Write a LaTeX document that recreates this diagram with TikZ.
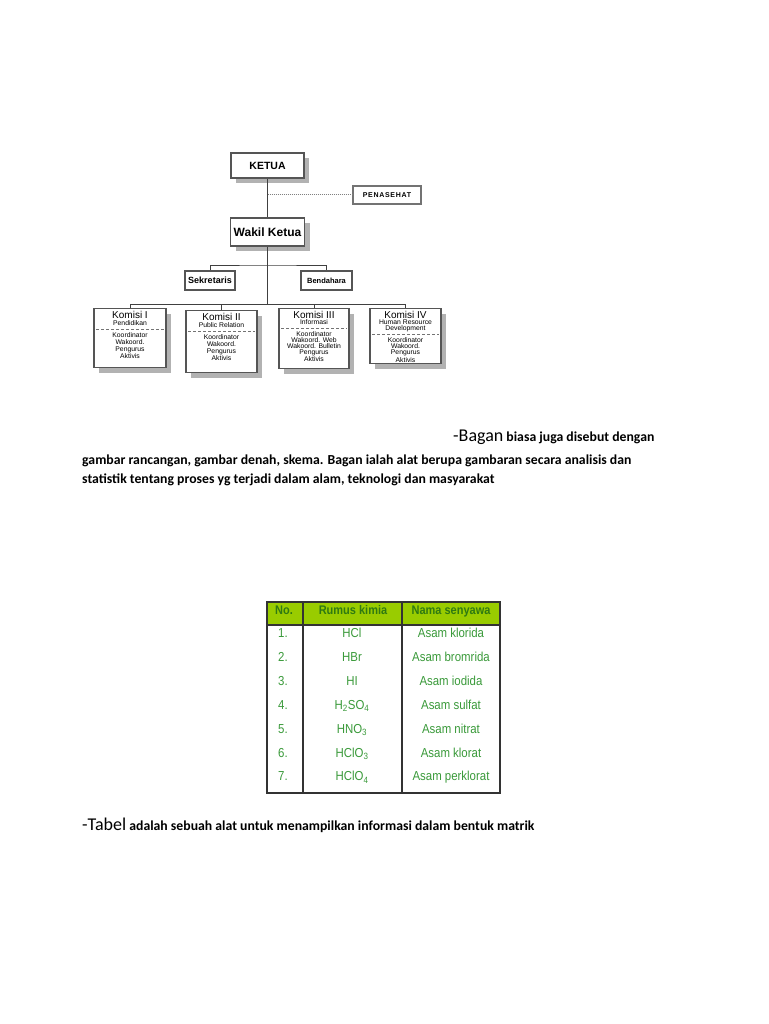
\documentclass[tikz,border=0pt]{standalone}
\usepackage{fontspec}
\usepackage{tikz}
\usetikzlibrary{shadows}

\newfontfamily\orgfont{Liberation Sans}
\newfontfamily\bodyfont{Carlito}
\newfontfamily\tabfont[FakeStretch=0.88]{Liberation Sans}

\definecolor{hdrgreen}{HTML}{99CC00}
\definecolor{hdrtext}{HTML}{2F7A12}
\definecolor{celltext}{HTML}{3A9A3A}
\definecolor{boxline}{HTML}{555555}

\begin{document}
\begin{tikzpicture}[x=1pt,y=-1pt,
  org box/.style={draw=boxline,line width=1.6pt,fill=white,inner sep=0pt,font=\orgfont\bfseries},
  shadow box/.style={org box,drop shadow={shadow xshift=5pt,shadow yshift=-5pt,fill=black!30,opacity=1}},
  komisi/.style={shadow box,anchor=north,line width=1.3pt,inner xsep=1pt,inner ysep=2.5pt,
                 font=\orgfont\fontsize{6.8}{6.8}\selectfont},
  link/.style={draw=black!75,line width=1pt},
  sep/.style={draw=black!55,densely dashed,line width=0.5pt},
  body/.style={anchor=base west,inner sep=0pt,font=\bodyfont\bfseries\fontsize{13.75}{16}\selectfont},
  tabline/.style={draw=black!80,line width=1.3pt},
  cell/.style={anchor=base,inner sep=0pt,text=celltext,font=\tabfont\fontsize{13}{13}\selectfont},
  head/.style={anchor=base,inner sep=0pt,text=hdrtext,font=\tabfont\bfseries\fontsize{12.5}{13}\selectfont}]

  \fill[white] (0,0) rectangle (768,1024);
  \useasboundingbox (0,0) rectangle (768,1024);

  % struktur organisasi
  \node[shadow box,minimum width=73pt,minimum height=25pt,
        font=\orgfont\bfseries\fontsize{10.5}{12}\selectfont] (ketua) at (267.5,165.5) {KETUA};
  \node[org box,draw=black!55,line width=1.2pt,minimum width=68pt,minimum height=18pt,
        font=\orgfont\bfseries\fontsize{7}{8}\selectfont] (penasehat) at (387,195)
        {\addfontfeature{LetterSpace=10}PENASEHAT};
  \node[shadow box,minimum width=74pt,minimum height=28pt,
        font=\orgfont\bfseries\fontsize{12}{14}\selectfont] (wakil) at (267.5,232) {Wakil Ketua};
  \node[org box,line width=1.2pt,minimum width=50pt,minimum height=19pt,
        font=\orgfont\bfseries\fontsize{9}{10}\selectfont] (sekretaris) at (210,280.5) {Sekretaris};
  \node[org box,line width=1.2pt,minimum width=51pt,minimum height=19pt,
        font=\orgfont\bfseries\fontsize{7.5}{9}\selectfont] (bendahara) at (326.5,280.5) {Bendahara};

  \node[komisi] (k1) at (130,308) {\parbox[t][54pt][t]{70pt}{\centering
    {\fontsize{10}{10}\selectfont Komisi I\par}Pendidikan\par\vspace{6pt}
    Koordinator\\Wakoord.\\Pengurus\\Aktivis}};
  \node[komisi] (k2) at (221.5,310) {\parbox[t][57pt][t]{69pt}{\centering
    {\fontsize{10}{10}\selectfont Komisi II\par}Public Relation\par\vspace{6pt}
    Koordinator\\Wakoord.\\Pengurus\\Aktivis}};
  \node[komisi,font=\orgfont\fontsize{6.8}{6}\selectfont] (k3) at (314,308) {\parbox[t][55pt][t]{68pt}{\centering
    {\fontsize{10}{10}\selectfont Komisi III\par}Informasi\par\vspace{6pt}
    Koordinator\\Wakoord. Web\\Wakoord. Bulletin\\Pengurus\\Aktivis}};
  \node[komisi,font=\orgfont\fontsize{6.8}{6}\selectfont] (k4) at (405.5,308) {\parbox[t][50pt][t]{69pt}{\centering
    {\fontsize{10}{10}\selectfont Komisi IV\par}Human Resource\\Development\par\vspace{5pt}
    Koordinator\\Wakoord.\\Pengurus\\Aktivis}};

  \foreach \k/\d in {k1/21,k2/21,k3/20,k4/26}
    \draw[sep] ([xshift=3pt,yshift=-\d pt]\k.north west) -- ([xshift=-3pt,yshift=-\d pt]\k.north east);

  \coordinate (upperbus) at (267.5,265);
  \coordinate (lowerbus) at (267.5,304);
  \draw[link] (ketua.south) -- (wakil.north);
  \draw[link,draw=black!50,densely dotted] (ketua.south |- penasehat.west) -- (penasehat.west);
  \draw[link] (sekretaris.north) |- (upperbus) -| (bendahara.north);
  \draw[link] (wakil.south) -- (lowerbus);
  \foreach \k in {k1,k2,k3,k4}
    \draw[link] (\k.north) |- (lowerbus);

  % teks
  \node[body] (bagan1) at (453,441) {{\mdseries\fontsize{18}{18}\selectfont -Bagan} biasa juga disebut dengan};
  \node[body] (bagan2) at (82,464.5) {gambar rancangan, gambar denah, skema. Bagan ialah alat berupa gambaran secara analisis dan};
  \node[body] (bagan3) at (82,483.5) {statistik tentang proses yg terjadi dalam alam, teknologi dan masyarakat};

  % tabel
  \fill[hdrgreen] (267,602) rectangle (500,625);
  \draw[tabline] (267,602) rectangle (500,793);
  \draw[tabline] (267,625) -- (500,625);
  \draw[tabline] (303,602) -- (303,793);
  \draw[tabline] (402,602) -- (402,793);
  \node[head] (hno) at (284,614) {No.};
  \node[head] (hrumus) at (353,614) {Rumus kimia};
  \node[head] (hnama) at (451,614) {Nama senyawa};
  \foreach \no/\rumus/\nama [count=\i] in {1./HCl/Asam klorida, 2./HBr/Asam bromrida, 3./HI/Asam iodida,
      4./H\textsubscript{2}SO\textsubscript{4}/Asam sulfat, 5./HNO\textsubscript{3}/Asam nitrat,
      6./HClO\textsubscript{3}/Asam klorat, 7./HClO\textsubscript{4}/Asam perklorat}{
    \node[cell] (no\i) at (283,613.6+23.9*\i) {\no};
    \node[cell] (rumus\i) at (352,613.6+23.9*\i) {\rumus};
    \node[cell] (nama\i) at (451,613.6+23.9*\i) {\nama};
  }

  \node[body] (tabel) at (82,830) {{\mdseries\fontsize{18}{18}\selectfont -Tabel} adalah sebuah alat untuk menampilkan informasi dalam bentuk matrik};
\end{tikzpicture}
\end{document}
